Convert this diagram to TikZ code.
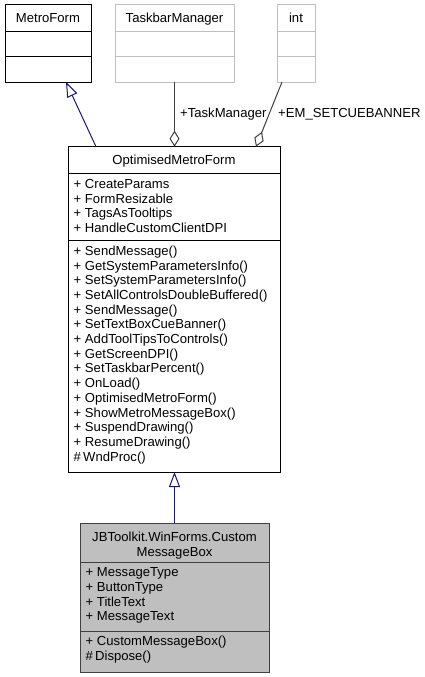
\documentclass[tikz,border=0pt]{standalone}
\usepackage{fontspec}
\setmainfont{Liberation Sans}
\usetikzlibrary{arrows.meta}
\definecolor{inh}{RGB}{25,25,112}
\definecolor{agg}{RGB}{64,64,64}
\definecolor{lgray}{RGB}{191,191,191}
\definecolor{boxfill}{RGB}{191,191,191}
\tikzset{
  x=1pt, y=-1pt,
  txt/.style={inner sep=0pt, font=\fontsize{13.1}{14.7}\selectfont, text=black},
  line/.style={anchor=base west, txt},
  head/.style={anchor=base, txt},
  boxline/.style={draw=black, line width=1pt},
  grayline/.style={draw=lgray, line width=1pt},
  curline/.style={draw=agg, line width=1pt},
  inherit/.style={draw=inh, line width=1pt, -{Triangle[open, length=15pt, width=11pt]}},
  aggreg/.style={draw=agg, line width=1pt, {Diamond[open, length=16pt, width=10pt]}-},
}
\begin{document}
\begin{tikzpicture}
\useasboundingbox (0,0) rectangle (424,677);
\fill[white] (0,0) rectangle (424,677);

% MetroForm
\draw[boxline] (5,5) rectangle (91,82);
\draw[boxline] (5,32) -- (91,32);
\draw[boxline] (5,57) -- (91,57);
\node[head] (mf) at (48,22.3) {MetroForm};
\coordinate (mfb) at (66,82);

% TaskbarManager
\draw[grayline] (115,5) rectangle (234,82);
\draw[grayline] (115,32) -- (234,32);
\draw[grayline] (115,57) -- (234,57);
\node[head] (tm) at (174.5,22.3) {TaskbarManager};
\coordinate (tmb) at (174.5,82);

% int
\draw[grayline] (277,5) rectangle (315,82);
\draw[grayline] (277,32) -- (315,32);
\draw[grayline] (277,57) -- (315,57);
\node[head] (in) at (296,22.3) {int};
\coordinate (inb) at (282,82);

% OptimisedMetroForm
\draw[boxline] (68,146.7) rectangle (280,472);
\draw[boxline] (68,173) -- (280,173);
\draw[boxline] (68,240) -- (280,240);
\node[head] (om) at (174,164) {OptimisedMetroForm};
\foreach \t [count=\i from 0] in {+ CreateParams,+ FormResizable,+ TagsAsTooltips,+ HandleCustomClientDPI}
  \node[line] (oa\i) at (73.5,188.3+14.7*\i) {\t};
\foreach \t [count=\i from 0] in {+ SendMessage(),+ GetSystemParametersInfo(),+ SetSystemParametersInfo(),+ SetAllControlsDoubleBuffered(),+ SendMessage(),+ SetTextBoxCueBanner(),+ AddToolTipsToControls(),+ GetScreenDPI(),+ SetTaskbarPercent(),+ OnLoad(),+ OptimisedMetroForm(),+ ShowMetroMessageBox(),+ SuspendDrawing(),+ ResumeDrawing(),\#\,WndProc()}
  \node[line] (oo\i) at (73.5,255.3+14.7*\i) {\t};
\coordinate (omt1) at (96,146.7);
\coordinate (omt2) at (174.5,146.7);
\coordinate (omt3) at (256,146.7);
\coordinate (omb) at (174.5,472);

% CustomMessageBox
\draw[draw=agg, fill=boxfill, line width=1pt] (80,523.3) rectangle (269,672);
\draw[curline] (80,562) -- (269,562);
\draw[curline] (80,631) -- (269,631);
\node[head] (c1) at (174.5,541.7) {JBToolkit.WinForms.Custom};
\node[head] (c2) at (174.5,556) {MessageBox};
\foreach \t [count=\i from 0] in {+ MessageType,+ ButtonType,+ TitleText,+ MessageText}
  \node[line] (ca\i) at (85.5,576.7+14.7*\i) {\t};
\foreach \t [count=\i from 0] in {+ CustomMessageBox(),\#\,Dispose()}
  \node[line] (co\i) at (85.5,645.7+14.7*\i) {\t};
\coordinate (cmt) at (174.5,523.3);

% connectors
\draw[inherit] (omt1) -- (mfb);
\draw[inherit] (cmt) -- (omb);
\draw[aggreg] (omt2) -- (tmb);
\draw[aggreg] (omt3) -- (inb);
\node[line] (l1) at (180,117.5) {+TaskManager};
\node[line] (l2) at (278,117.5) {+EM\_SETCUEBANNER};
\end{tikzpicture}
\end{document}
